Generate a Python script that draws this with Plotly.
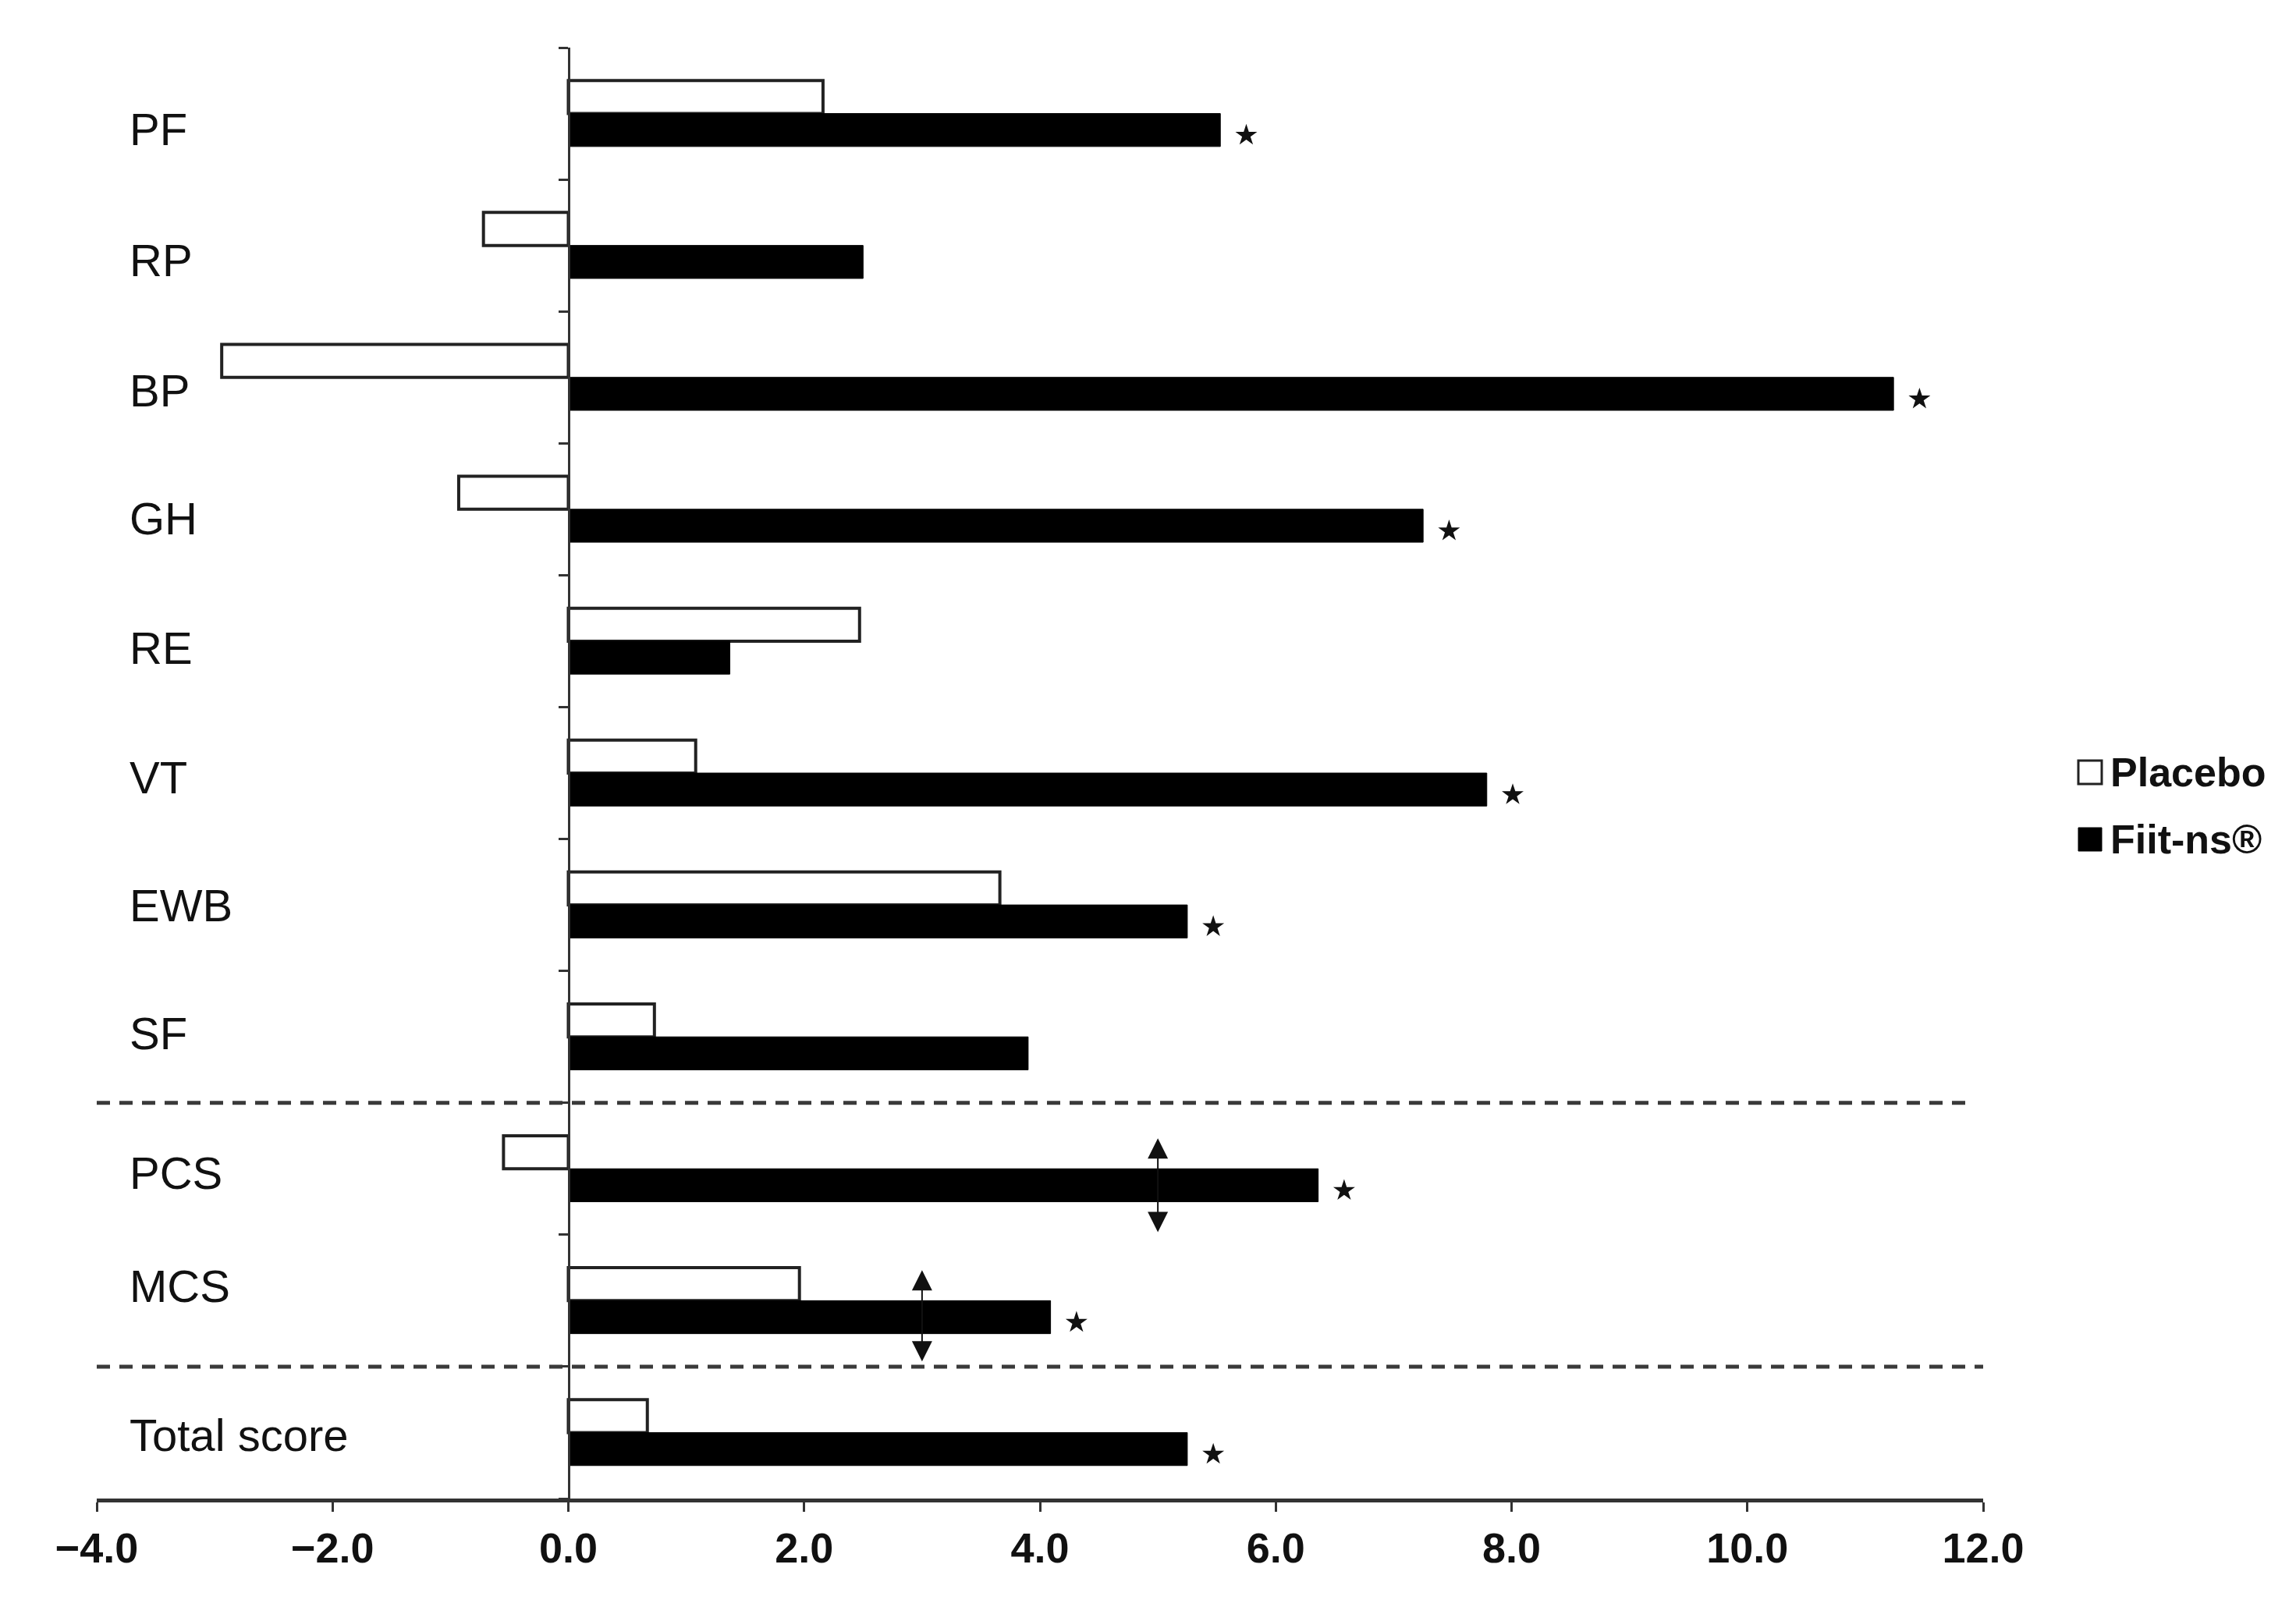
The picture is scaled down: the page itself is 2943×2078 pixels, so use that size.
import plotly.graph_objects as go

# ---------------- data ----------------
categories = ["PF", "RP", "BP", "GH", "RE", "VT", "EWB", "SF", "PCS", "MCS", "Total score"]
placebo = [2.16, -0.72, -2.94, -0.93, 2.47, 1.08, 3.66, 0.73, -0.55, 1.96, 0.67]
fiit = [5.53, 2.50, 11.24, 7.25, 1.37, 7.79, 5.25, 3.90, 6.36, 4.09, 5.25]
significant = [True, False, True, True, False, True, True, False, True, True, True]
series_names = ["Placebo", "Fiit-ns®"]
x_ticks = [-4, -2, 0, 2, 4, 6, 8, 10, 12]
arrow_cats = ["PCS", "MCS"]
arrow_x = [5.0, 3.0]

# ---------------- layout helpers ----------------
W, H = 2943, 2078
ML, MR, MT, MB = 116, 409, 53, 165
pos = list(range(len(categories)))
label_dy = [0.12, 0.11, 0.10, 0.07, 0.05, 0.03, 0.0, -0.03, 0.03, -0.11, 0.02]
group_breaks = [7.5, 9.5]
break_x_end = [11.9, 12.0]
arrow_span = [(-0.24, 0.48), (-0.24, 0.46)]

FONT = "Liberation Sans, Arial, sans-serif"
NARROW = "Liberation Sans Narrow, Arial Narrow, Liberation Sans, Arial, sans-serif"

fig = go.Figure()

fig.add_trace(go.Bar(
    y=pos, x=placebo, orientation="h", name=series_names[0],
    offset=-0.25, width=0.25,
    marker=dict(color="white", line=dict(color="#222222", width=4)),
    showlegend=False,
))
fig.add_trace(go.Bar(
    y=pos, x=fiit, orientation="h", name=series_names[1],
    offset=0.0, width=0.25,
    marker=dict(color="black", line=dict(color="black", width=1)),
    showlegend=False,
))

# significance stars
star_x = [v + 0.22 for v, s in zip(fiit, significant) if s]
star_y = [p + 0.165 for p, s in zip(pos, significant) if s]
fig.add_trace(go.Scatter(
    x=star_x, y=star_y, mode="markers",
    marker=dict(symbol="star", size=21, color="#111111"),
    showlegend=False, hoverinfo="skip",
))

shapes = []
for yb, xe in zip(group_breaks, break_x_end):
    shapes.append(dict(type="line", xref="x", yref="y", x0=x_ticks[0], x1=xe, y0=yb, y1=yb,
                       line=dict(color="#3a3a3a", width=5, dash="17px,12px")))

def px_x(px):
    return (px - ML) / (W - ML - MR)

def px_y(py):
    return (H - MB - py) / (H - MT - MB)

# custom legend squares
shapes.append(dict(type="rect", xref="paper", yref="paper",
                   x0=px_x(2656), x1=px_x(2686), y0=px_y(997), y1=px_y(967),
                   fillcolor="white", line=dict(color="#222222", width=3)))
shapes.append(dict(type="rect", xref="paper", yref="paper",
                   x0=px_x(2656), x1=px_x(2686), y0=px_y(1083), y1=px_y(1053),
                   fillcolor="black", line=dict(color="black", width=1)))

annotations = []
# category labels
for c, p, dy in zip(categories, pos, label_dy):
    annotations.append(dict(text=c, xref="paper", yref="y", x=px_x(156), y=p + dy,
                            xanchor="left", yanchor="middle", showarrow=False,
                            font=dict(family=FONT, size=58, color="#111111")))
# legend text
annotations.append(dict(text="<b>" + series_names[0] + "</b>", xref="paper", yref="paper",
                        x=px_x(2695), y=px_y(982), xanchor="left", yanchor="middle",
                        showarrow=False, font=dict(family=FONT, size=52, color="#111111")))
annotations.append(dict(text="<b>" + series_names[1] + "</b>", xref="paper", yref="paper",
                        x=px_x(2695), y=px_y(1068), xanchor="left", yanchor="middle",
                        showarrow=False, font=dict(family=FONT, size=52, color="#111111")))
# double-headed arrows
for c, ax_, (s0, s1) in zip(arrow_cats, arrow_x, arrow_span):
    p = categories.index(c)
    annotations.append(dict(x=ax_, y=p + s1, ax=ax_, ay=p + s0, xref="x", yref="y",
                            axref="x", ayref="y", text="", showarrow=True,
                            arrowhead=2, startarrowhead=2, arrowside="end+start",
                            arrowsize=2.6, startarrowsize=2.6, arrowwidth=2,
                            arrowcolor="#111111", standoff=0, startstandoff=0))

fig.update_layout(
    width=W, height=H,
    margin=dict(l=ML, r=MR, t=MT, b=MB, pad=0),
    paper_bgcolor="white", plot_bgcolor="white",
    barmode="overlay",
    shapes=shapes, annotations=annotations,
    showlegend=False,
    xaxis=dict(range=[x_ticks[0], x_ticks[-1]], tickvals=x_ticks, tickformat=".1f",
               showline=True, linecolor="#333333", linewidth=5,
               ticks="outside", ticklen=12, tickwidth=3, tickcolor="#333333",
               showgrid=False, zeroline=False,
               tickfont=dict(family=NARROW, size=54, color="#111111", weight="bold")),
    yaxis=dict(range=[len(categories) - 0.5, -0.5],
               tickvals=[p - 0.5 for p in pos] + [len(categories) - 0.5],
               showticklabels=False, anchor="free", position=0.25,
               showline=True, linecolor="#333333", linewidth=3,
               ticks="outside", ticklen=12, tickwidth=3, tickcolor="#333333",
               showgrid=False, zeroline=False),
)

fig.write_html("out.html")
